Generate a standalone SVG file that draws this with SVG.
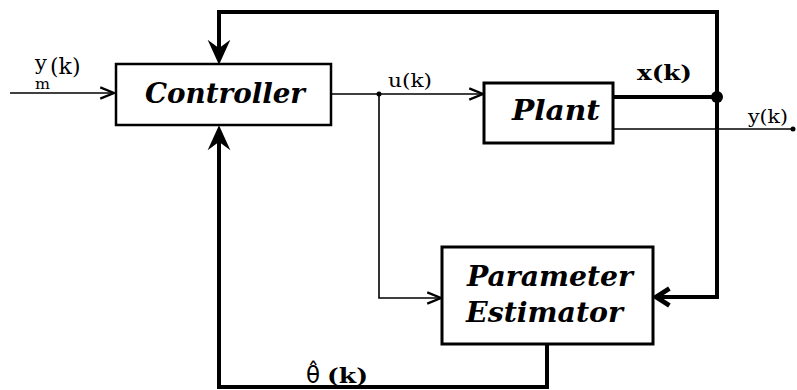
<svg xmlns="http://www.w3.org/2000/svg" width="797" height="390" viewBox="0 0 797 390">
<style>
  .box { fill: #fff; stroke: #000; }
  .thin { fill: none; stroke: #000; stroke-width: 1.6; }
  .thick { fill: none; stroke: #000; stroke-width: 4; }
  .big { font-family: "DejaVu Serif", "Liberation Serif", serif; font-weight: bold; font-style: italic; font-size: 27px; fill: #000; }
  .lbl { font-family: "DejaVu Serif", "Liberation Serif", serif; font-size: 18px; fill: #000; }
  .lblb { font-family: "DejaVu Serif", "Liberation Serif", serif; font-weight: bold; font-size: 20px; fill: #000; }
</style>
<defs>
  <marker id="openThin" markerUnits="userSpaceOnUse" markerWidth="20" markerHeight="20" viewBox="-14 -8 16 16" refX="0" refY="0" orient="auto" overflow="visible">
    <path d="M-11,-4.5 L0,0 L-11,4.5" fill="none" stroke="#000" stroke-width="1.8"/>
  </marker>
  <marker id="openThick" markerUnits="userSpaceOnUse" markerWidth="24" markerHeight="24" viewBox="-16 -10 20 20" refX="0" refY="0" orient="auto" overflow="visible">
    <path d="M-12,-7 L-1,0 L-12,7" fill="none" stroke="#000" stroke-width="4"/>
  </marker>
  <marker id="solid" markerUnits="userSpaceOnUse" markerWidth="30" markerHeight="30" viewBox="-4 -12 30 24" refX="-8" refY="0" orient="auto" overflow="visible">
    <path d="M0,0 L-21,-9.5 L-14,0 L-21,9.5 Z" fill="#000" stroke="#000" stroke-width="1.5" stroke-linejoin="miter"/>
  </marker>
</defs>

<g id="connectors">
  <path class="thin" d="M10,93 H114" marker-end="url(#openThin)"/>
  <path class="thin" d="M331,94 H483" marker-end="url(#openThin)"/>
  <path class="thin" d="M379,94 V298 H441" marker-end="url(#openThin)"/>
  <circle cx="379" cy="94" r="2.5" fill="#000"/>
  <path class="thick" d="M613,97 H717"/>
  <circle cx="717" cy="97" r="6" fill="#000"/>
  <path class="thin" d="M613,129 H793"/>
  <circle cx="793" cy="129" r="2.5" fill="#000"/>
  <path class="thick" d="M717,99 V12 H219 V55" marker-end="url(#solid)"/>
  <path class="thick" d="M717,97 V297 H655" marker-end="url(#openThick)"/>
  <path class="thick" d="M547,344 V387 H219 V135" marker-end="url(#solid)"/>
</g>

<g id="controller">
  <rect class="box" x="116" y="64" width="215" height="61" stroke-width="2.5"/>
  <text class="big" x="145" y="103" textLength="160" lengthAdjust="spacingAndGlyphs">Controller</text>
</g>

<g id="plant">
  <rect class="box" x="484" y="83" width="129" height="60" stroke-width="3"/>
  <text class="big" x="512" y="120" textLength="88" lengthAdjust="spacingAndGlyphs">Plant</text>
</g>

<g id="estimator">
  <rect class="box" x="442" y="247" width="211" height="97" stroke-width="3"/>
  <text class="big" x="467" y="286" textLength="166" lengthAdjust="spacingAndGlyphs">Parameter</text>
  <text class="big" x="466" y="322" textLength="157" lengthAdjust="spacingAndGlyphs">Estimator</text>
</g>

<g id="labels">
  <text class="lbl" x="35" y="70" style="font-size:21px">y</text>
  <text class="lbl" x="35" y="89" style="font-size:14px" textLength="15" lengthAdjust="spacingAndGlyphs">m</text>
  <text class="lbl" x="50" y="74" style="font-size:22px">(k)</text>
  <text class="lbl" x="388" y="87" textLength="44" lengthAdjust="spacingAndGlyphs">u(k)</text>
  <text class="lblb" x="637" y="80" textLength="55" lengthAdjust="spacingAndGlyphs">x(k)</text>
  <text class="lbl" x="748" y="123" textLength="40" lengthAdjust="spacingAndGlyphs">y(k)</text>
  <text x="306" y="383" style="font-size:23px; font-family:'DejaVu Sans', sans-serif">θ̂</text>
  <text class="lblb" x="327" y="383" textLength="41" lengthAdjust="spacingAndGlyphs">(k)</text>
</g>
</svg>
